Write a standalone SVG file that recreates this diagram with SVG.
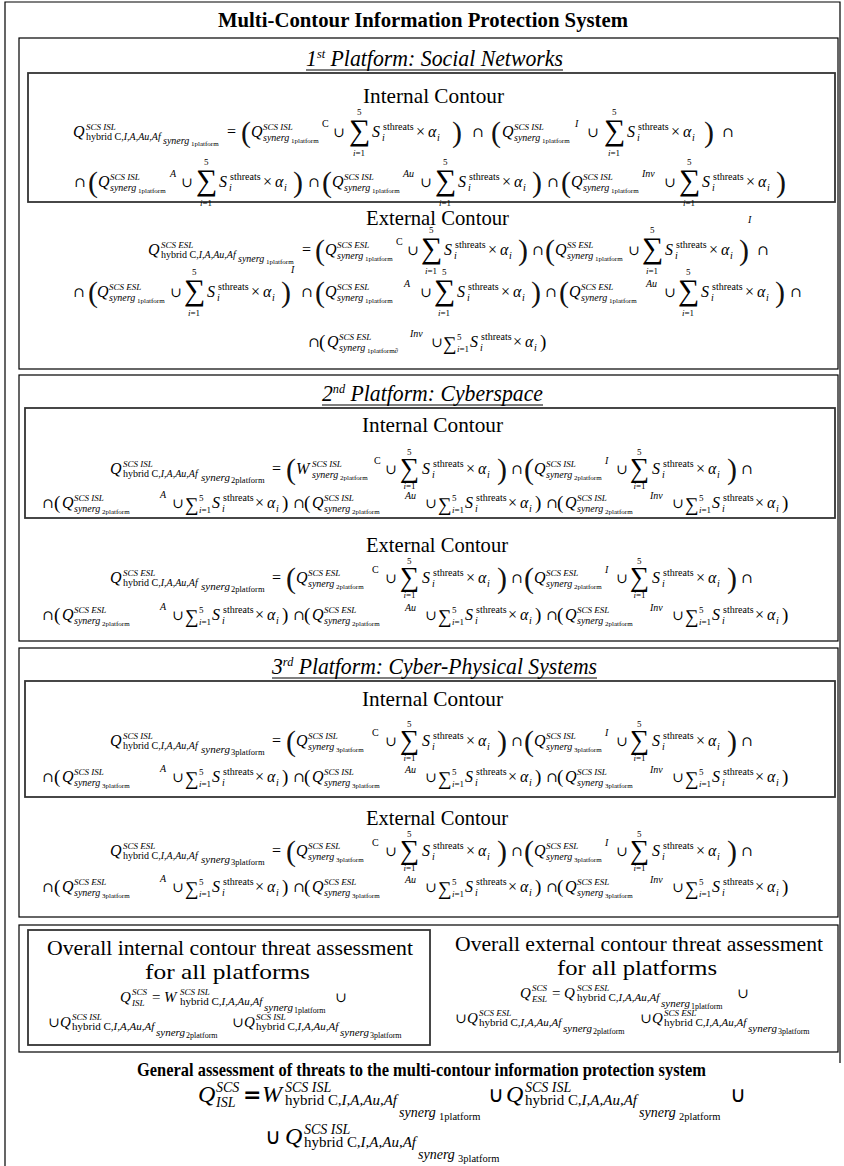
<svg xmlns="http://www.w3.org/2000/svg" width="844" height="1166" viewBox="0 0 844 1166">
<style>
text{font-family:"Liberation Serif","DejaVu Serif",serif;fill:#000}
.ttl{font-weight:bold;font-size:21px}
.gt{font-weight:bold;font-size:19px}
.hd{font-style:italic;font-size:23px}
.ct{font-size:21px}
.ov{font-size:22px}
.mi{font-style:italic;font-size:16px}
.rm{font-size:16px}
.op{font-family:"DejaVu Serif",serif;font-size:14px}
.sp{font-style:italic;font-size:9px}
.sb{font-style:italic;font-size:10px}
.sb11{font-style:italic;font-size:11px}
.sr{font-size:10px}
.ss{font-size:7px}
.s8{font-size:8.5px}
.it{font-style:italic}
.ex{font-style:italic;font-size:10px}
.cx{font-size:10px}
.lm{font-size:9px}
.bg{font-size:30px}
.bg2{font-size:27px}
.bi{font-size:19px}
.pb{font-size:30px;fill:#111}
.pi{font-size:19px}
.bx{fill:none;stroke:#000;stroke-width:1.2}
.ib{fill:none;stroke:#333;stroke-width:1.8}
.ul{stroke:#000;stroke-width:1.2}
.m2{font-style:italic;font-size:15px}
.r2{font-size:15px}
.o11{font-size:11px}
.o11i{font-style:italic;font-size:11px}
.o8{font-size:8px}
.gm{font-style:italic;font-size:24px}
.gs{font-style:italic;font-size:14px}
.gr{font-size:14px}
.gp{font-size:10.5px}
.gq{font-family:"DejaVu Sans",sans-serif;font-size:22px}
.ge{font-family:"DejaVu Sans",sans-serif;font-weight:bold;font-size:22px}
</style>
<defs>
<g id="sD"><text class="bg" x="0" y="3">∑</text><text class="lm" x="8" y="-22">5</text><text class="lm" x="4" y="19"><tspan class="it">i</tspan>=1</text><text class="mi" x="23" y="0">S</text><text class="sr" x="34" y="-7">sthreats</text><text class="sb" x="33" y="4">i</text><text class="rm" x="67" y="0">×</text><text class="mi" x="79" y="0">α</text><text class="sb" x="88" y="4">i</text></g>
<g id="sD2"><text class="bg2" x="0" y="3">∑</text><text class="lm" x="7" y="-19">5</text><text class="lm" x="3.5" y="15"><tspan class="it">i</tspan>=1</text><text class="mi" x="22" y="0">S</text><text class="sr" x="33" y="-7">sthreats</text><text class="sb" x="32" y="4">i</text><text class="rm" x="66" y="0">×</text><text class="mi" x="78" y="0">α</text><text class="sb" x="87" y="4">i</text></g>
<g id="sI"><text class="bi" x="0" y="3">∑</text><text class="lm" x="14" y="-7">5</text><text class="lm" x="14" y="5"><tspan class="it">i</tspan>=1</text><text class="mi" x="27" y="0">S</text><text class="sr" x="38" y="-7">sthreats</text><text class="sb" x="37" y="4">i</text><text class="rm" x="70" y="0">×</text><text class="mi" x="82" y="0">α</text><text class="sb" x="91" y="4">i</text></g>
<g id="qI1"><text class="mi" x="0" y="0">Q</text><text class="sp" x="12" y="-7">SCS ISL</text><text class="sb" x="12" y="4">synerg</text><text class="ss" x="40" y="6">1platform</text></g>
<g id="qE1"><text class="mi" x="0" y="0">Q</text><text class="sp" x="12" y="-7">SCS ESL</text><text class="sb" x="12" y="4">synerg</text><text class="ss" x="40" y="6">1platform</text></g>
<g id="qS1"><text class="mi" x="0" y="0">Q</text><text class="sp" x="12" y="-7">SS ESL</text><text class="sb" x="12" y="4">synerg</text><text class="ss" x="40" y="6">1platform</text></g>
<g id="qT1"><text class="mi" x="0" y="0">Q</text><text class="sp" x="12" y="-7">SCS ESL</text><text class="sb" x="12" y="4">synerg</text><text class="ss" x="40" y="6">1platform∂</text></g>
<g id="qI2"><text class="mi" x="0" y="0">Q</text><text class="sp" x="12" y="-7">SCS ISL</text><text class="sb" x="12" y="4">synerg</text><text class="ss" x="40" y="6">2platform</text></g>
<g id="qE2"><text class="mi" x="0" y="0">Q</text><text class="sp" x="12" y="-7">SCS ESL</text><text class="sb" x="12" y="4">synerg</text><text class="ss" x="40" y="6">2platform</text></g>
<g id="wI2"><text class="mi" x="0" y="0">W</text><text class="sp" x="16" y="-7">SCS ISL</text><text class="sb" x="16" y="4">synerg</text><text class="ss" x="44" y="6">2platform</text></g>
<g id="qI3"><text class="mi" x="0" y="0">Q</text><text class="sp" x="12" y="-7">SCS ISL</text><text class="sb" x="12" y="4">synerg</text><text class="ss" x="40" y="6">3platform</text></g>
<g id="qE3"><text class="mi" x="0" y="0">Q</text><text class="sp" x="12" y="-7">SCS ESL</text><text class="sb" x="12" y="4">synerg</text><text class="ss" x="40" y="6">3platform</text></g>
<g id="hI1"><text class="mi" x="0" y="0">Q</text><text class="sp" x="13" y="-7">SCS ISL</text><text class="sr" x="13" y="3">hybrid C<tspan class="it">,I,A,Au,Af</tspan></text><text class="sb" x="90" y="7">synerg</text><text class="ss" x="118" y="9">1platform</text></g>
<g id="hE1"><text class="mi" x="0" y="0">Q</text><text class="sp" x="13" y="-7">SCS ESL</text><text class="sr" x="13" y="3">hybrid C<tspan class="it">,I,A,Au,Af</tspan></text><text class="sb" x="90" y="7">synerg</text><text class="ss" x="118" y="9">1platform</text></g>
<g id="hI2"><text class="mi" x="0" y="0">Q</text><text class="sp" x="13" y="-7">SCS ISL</text><text class="sr" x="13" y="3">hybrid C<tspan class="it">,I,A,Au,Af</tspan></text><text class="sb11" x="91" y="7">synerg</text><text class="s8" x="121" y="9">2platform</text></g>
<g id="hE2"><text class="mi" x="0" y="0">Q</text><text class="sp" x="13" y="-7">SCS ESL</text><text class="sr" x="13" y="3">hybrid C<tspan class="it">,I,A,Au,Af</tspan></text><text class="sb11" x="91" y="7">synerg</text><text class="s8" x="121" y="9">2platform</text></g>
<g id="hI3"><text class="mi" x="0" y="0">Q</text><text class="sp" x="13" y="-7">SCS ISL</text><text class="sr" x="13" y="3">hybrid C<tspan class="it">,I,A,Au,Af</tspan></text><text class="sb11" x="91" y="7">synerg</text><text class="s8" x="121" y="9">3platform</text></g>
<g id="hE3"><text class="mi" x="0" y="0">Q</text><text class="sp" x="13" y="-7">SCS ESL</text><text class="sr" x="13" y="3">hybrid C<tspan class="it">,I,A,Au,Af</tspan></text><text class="sb11" x="91" y="7">synerg</text><text class="s8" x="121" y="9">3platform</text></g>
</defs>
<rect width="844" height="1166" fill="#fff"/>
<path class="bx" d="M5,1166 V2 H840 V1063"/>
<g id="title"><text class="ttl" x="218" y="27" textLength="410" lengthAdjust="spacingAndGlyphs">Multi-Contour Information Protection System</text></g>

<g id="platform1">
<rect class="bx" x="19" y="38" width="819" height="331"/>
<text class="hd" x="306" y="66" textLength="257" lengthAdjust="spacingAndGlyphs">1<tspan font-size="13" dy="-8">st</tspan><tspan dy="8"> Platform: Social Networks</tspan></text>
<line class="ul" x1="306" y1="70" x2="563" y2="70"/>
</g>
<g id="p1-internal">
<rect class="ib" x="28" y="73" width="807" height="129"/>
<text class="ct" x="363" y="103" textLength="141" lengthAdjust="spacingAndGlyphs">Internal Contour</text>
<use href="#hI1" x="73" y="137"/><text class="rm" x="227" y="137">=</text><text class="pb" x="241" y="142">(</text>
<use href="#qI1" x="251" y="137"/><text class="cx" x="322" y="127">C</text><text class="op" x="333" y="137">∪</text>
<use href="#sD" x="349" y="137"/><text class="pb" x="452" y="142">)</text><text class="op" x="472" y="137">∩</text><text class="pb" x="491" y="142">(</text>
<use href="#qI1" x="502" y="137"/><text class="ex" x="575" y="127">I</text><text class="op" x="587" y="137">∪</text>
<use href="#sD" x="604" y="137"/><text class="pb" x="704" y="142">)</text><text class="op" x="722" y="137">∩</text>
<text class="op" x="74" y="187">∩</text><text class="pb" x="88" y="192">(</text><use href="#qI1" x="98" y="187"/><text class="ex" x="170" y="177">A</text><text class="op" x="181" y="187">∪</text>
<use href="#sD" x="196" y="187"/><text class="pb" x="293" y="192">)</text><text class="op" x="308" y="187">∩</text><text class="pb" x="322" y="192">(</text>
<use href="#qI1" x="332" y="187"/><text class="ex" x="403" y="177">Au</text><text class="op" x="420" y="187">∪</text>
<use href="#sD" x="435" y="187"/><text class="pb" x="532" y="192">)</text><text class="op" x="547" y="187">∩</text><text class="pb" x="561" y="192">(</text>
<use href="#qI1" x="571" y="187"/><text class="ex" x="642" y="177">Inv</text><text class="op" x="664" y="187">∪</text>
<use href="#sD" x="679" y="187"/><text class="pb" x="776" y="192">)</text>
</g>
<g id="p1-external">
<text class="ct" x="366" y="225" textLength="143" lengthAdjust="spacingAndGlyphs">External Contour</text>
<use href="#hE1" x="148" y="255"/><text class="rm" x="302" y="255">=</text><text class="pb" x="315" y="260">(</text>
<use href="#qE1" x="325" y="255"/><text class="cx" x="396" y="245">C</text><text class="op" x="407" y="255">∪</text>
<use href="#sD" x="421" y="255"/><text class="pb" x="518" y="260">)</text><text class="op" x="532" y="255">∩</text><text class="pb" x="545" y="260">(</text>
<use href="#qS1" x="555" y="255"/><text class="op" x="628" y="255">∪</text>
<use href="#sD" x="642" y="255"/><text class="pb" x="739" y="260">)</text><text class="ex" x="748" y="223">I</text><text class="op" x="757" y="255">∩</text>
<text class="op" x="73" y="297">∩</text><text class="pb" x="88" y="302">(</text><use href="#qE1" x="97" y="297"/><text class="op" x="170" y="297">∪</text>
<use href="#sD" x="184" y="297"/><text class="pb" x="281" y="302">)</text><text class="ex" x="291" y="273">I</text><text class="op" x="301" y="297">∩</text><text class="pb" x="315" y="302">(</text>
<use href="#qE1" x="325" y="297"/><text class="ex" x="404" y="287">A</text><text class="op" x="420" y="297">∪</text>
<use href="#sD" x="434" y="297"/><text class="pb" x="531" y="302">)</text><text class="op" x="545" y="297">∩</text><text class="pb" x="559" y="302">(</text>
<use href="#qE1" x="569" y="297"/><text class="ex" x="646" y="287">Au</text><text class="op" x="664" y="297">∪</text>
<use href="#sD" x="678" y="297"/><text class="pb" x="775" y="302">)</text><text class="op" x="790" y="297">∩</text>
<text class="op" x="308" y="347">∩</text><text class="pi" x="319" y="348">(</text><use href="#qT1" x="327" y="347"/><text class="ex" x="410" y="337">Inv</text><text class="op" x="431" y="347">∪</text>
<use href="#sI" x="443" y="347"/><text class="pi" x="540" y="348">)</text>
</g>

<g id="platform2">
<rect class="bx" x="19" y="375" width="819" height="266"/>
<text class="hd" x="322" y="401" textLength="221" lengthAdjust="spacingAndGlyphs">2<tspan font-size="13" dy="-8">nd</tspan><tspan dy="8"> Platform: Cyberspace</tspan></text>
<line class="ul" x1="322" y1="405" x2="543" y2="405"/>
</g>
<g id="p2-internal">
<rect class="ib" x="25" y="408" width="810" height="110"/>
<text class="ct" x="362" y="432" textLength="141" lengthAdjust="spacingAndGlyphs">Internal Contour</text>
<use href="#hI2" x="110" y="474"/><text class="rm" x="272" y="474">=</text><text class="pb" x="286" y="479">(</text>
<use href="#wI2" x="296" y="474"/><text class="cx" x="374" y="464">C</text><text class="op" x="385" y="474">∪</text>
<use href="#sD2" x="400" y="474"/><text class="pb" x="497" y="479">)</text><text class="op" x="511" y="474">∩</text><text class="pb" x="524" y="479">(</text>
<use href="#qI2" x="534" y="474"/><text class="ex" x="605" y="464">I</text><text class="op" x="616" y="474">∪</text>
<use href="#sD2" x="630" y="474"/><text class="pb" x="727" y="479">)</text><text class="op" x="741" y="474">∩</text>
<text class="op" x="42" y="508">∩</text><text class="pi" x="54" y="509">(</text><use href="#qI2" x="62" y="508"/><text class="ex" x="160" y="498">A</text><text class="op" x="172" y="508">∪</text>
<use href="#sI" x="185" y="508"/><text class="pi" x="282" y="509">)</text><text class="op" x="293" y="508">∩</text><text class="pi" x="304" y="509">(</text>
<use href="#qI2" x="312" y="508"/><text class="ex" x="405" y="499">Au</text><text class="op" x="425" y="508">∪</text>
<use href="#sI" x="438" y="508"/><text class="pi" x="535" y="509">)</text><text class="op" x="546" y="508">∩</text><text class="pi" x="557" y="509">(</text>
<use href="#qI2" x="565" y="508"/><text class="ex" x="650" y="499">Inv</text><text class="op" x="672" y="508">∪</text>
<use href="#sI" x="685" y="508"/><text class="pi" x="782" y="509">)</text>
</g>
<g id="p2-external">
<text class="ct" x="366" y="552" textLength="142" lengthAdjust="spacingAndGlyphs">External Contour</text>
<use href="#hE2" x="110" y="583"/><text class="rm" x="272" y="583">=</text><text class="pb" x="286" y="588">(</text>
<use href="#qE2" x="296" y="583"/><text class="cx" x="372" y="573">C</text><text class="op" x="385" y="583">∪</text>
<use href="#sD2" x="400" y="583"/><text class="pb" x="497" y="588">)</text><text class="op" x="511" y="583">∩</text><text class="pb" x="524" y="588">(</text>
<use href="#qE2" x="534" y="583"/><text class="ex" x="605" y="573">I</text><text class="op" x="616" y="583">∪</text>
<use href="#sD2" x="630" y="583"/><text class="pb" x="727" y="588">)</text><text class="op" x="741" y="583">∩</text>
<text class="op" x="42" y="620">∩</text><text class="pi" x="54" y="621">(</text><use href="#qE2" x="62" y="620"/><text class="ex" x="160" y="610">A</text><text class="op" x="172" y="620">∪</text>
<use href="#sI" x="185" y="620"/><text class="pi" x="282" y="621">)</text><text class="op" x="293" y="620">∩</text><text class="pi" x="304" y="621">(</text>
<use href="#qE2" x="312" y="620"/><text class="ex" x="405" y="611">Au</text><text class="op" x="425" y="620">∪</text>
<use href="#sI" x="438" y="620"/><text class="pi" x="535" y="621">)</text><text class="op" x="546" y="620">∩</text><text class="pi" x="557" y="621">(</text>
<use href="#qE2" x="565" y="620"/><text class="ex" x="650" y="611">Inv</text><text class="op" x="672" y="620">∪</text>
<use href="#sI" x="685" y="620"/><text class="pi" x="782" y="621">)</text>
</g>

<g id="platform3">
<rect class="bx" x="19" y="648" width="819" height="269"/>
<text class="hd" x="272" y="674" textLength="325" lengthAdjust="spacingAndGlyphs">3<tspan font-size="13" dy="-8">rd</tspan><tspan dy="8"> Platform: Cyber-Physical Systems</tspan></text>
<line class="ul" x1="272" y1="678" x2="597" y2="678"/>
</g>
<g id="p3-internal">
<rect class="ib" x="25" y="681" width="810" height="116"/>
<text class="ct" x="362" y="706" textLength="141" lengthAdjust="spacingAndGlyphs">Internal Contour</text>
<use href="#hI3" x="110" y="746"/><text class="rm" x="272" y="746">=</text><text class="pb" x="286" y="751">(</text>
<use href="#qI3" x="296" y="746"/><text class="cx" x="372" y="736">C</text><text class="op" x="385" y="746">∪</text>
<use href="#sD2" x="400" y="746"/><text class="pb" x="497" y="751">)</text><text class="op" x="511" y="746">∩</text><text class="pb" x="524" y="751">(</text>
<use href="#qI3" x="534" y="746"/><text class="ex" x="605" y="736">I</text><text class="op" x="616" y="746">∪</text>
<use href="#sD2" x="630" y="746"/><text class="pb" x="727" y="751">)</text><text class="op" x="741" y="746">∩</text>
<text class="op" x="42" y="782">∩</text><text class="pi" x="54" y="783">(</text><use href="#qI3" x="62" y="782"/><text class="ex" x="160" y="772">A</text><text class="op" x="172" y="782">∪</text>
<use href="#sI" x="185" y="782"/><text class="pi" x="282" y="783">)</text><text class="op" x="293" y="782">∩</text><text class="pi" x="304" y="783">(</text>
<use href="#qI3" x="312" y="782"/><text class="ex" x="405" y="773">Au</text><text class="op" x="425" y="782">∪</text>
<use href="#sI" x="438" y="782"/><text class="pi" x="535" y="783">)</text><text class="op" x="546" y="782">∩</text><text class="pi" x="557" y="783">(</text>
<use href="#qI3" x="565" y="782"/><text class="ex" x="650" y="773">Inv</text><text class="op" x="672" y="782">∪</text>
<use href="#sI" x="685" y="782"/><text class="pi" x="782" y="783">)</text>
</g>
<g id="p3-external">
<text class="ct" x="366" y="825" textLength="142" lengthAdjust="spacingAndGlyphs">External Contour</text>
<use href="#hE3" x="110" y="856"/><text class="rm" x="272" y="856">=</text><text class="pb" x="286" y="861">(</text>
<use href="#qE3" x="296" y="856"/><text class="cx" x="372" y="846">C</text><text class="op" x="385" y="856">∪</text>
<use href="#sD2" x="400" y="856"/><text class="pb" x="497" y="861">)</text><text class="op" x="511" y="856">∩</text><text class="pb" x="524" y="861">(</text>
<use href="#qE3" x="534" y="856"/><text class="ex" x="605" y="846">I</text><text class="op" x="616" y="856">∪</text>
<use href="#sD2" x="630" y="856"/><text class="pb" x="727" y="861">)</text><text class="op" x="741" y="856">∩</text>
<text class="op" x="42" y="892">∩</text><text class="pi" x="54" y="893">(</text><use href="#qE3" x="62" y="892"/><text class="ex" x="160" y="882">A</text><text class="op" x="172" y="892">∪</text>
<use href="#sI" x="185" y="892"/><text class="pi" x="282" y="893">)</text><text class="op" x="293" y="892">∩</text><text class="pi" x="304" y="893">(</text>
<use href="#qE3" x="312" y="892"/><text class="ex" x="405" y="883">Au</text><text class="op" x="425" y="892">∪</text>
<use href="#sI" x="438" y="892"/><text class="pi" x="535" y="893">)</text><text class="op" x="546" y="892">∩</text><text class="pi" x="557" y="893">(</text>
<use href="#qE3" x="565" y="892"/><text class="ex" x="650" y="883">Inv</text><text class="op" x="672" y="892">∪</text>
<use href="#sI" x="685" y="892"/><text class="pi" x="782" y="893">)</text>
</g>

<g id="overall">
<rect class="bx" x="19" y="925" width="819" height="127"/>
</g>
<g id="overall-internal">
<rect class="ib" x="28" y="930" width="402" height="115"/>
<text class="ov" x="47" y="955" textLength="366" lengthAdjust="spacingAndGlyphs">Overall internal contour threat assessment</text>
<text class="ov" x="145" y="979" textLength="165" lengthAdjust="spacingAndGlyphs">for all platforms</text>
<text class="m2" x="120" y="1002">Q</text><text class="sp" x="132" y="995">SCS</text><text class="sp" x="132" y="1006">ISL</text>
<text class="r2" x="152" y="1002">=</text>
<text class="m2" x="164" y="1002">W</text><text class="sp" x="180" y="995">SCS ISL</text><text class="o11" x="180" y="1005">hybrid C<tspan class="it">,I,A,Au,Af</tspan></text><text class="o11i" x="264" y="1011">synerg</text><text class="o8" x="294" y="1013">1platform</text>
<text class="op" x="335" y="1002">∪</text>
<text class="op" x="48" y="1027">∪</text>
<text class="m2" x="60" y="1027">Q</text><text class="sp" x="72" y="1020">SCS ISL</text><text class="o11" x="72" y="1030">hybrid C<tspan class="it">,I,A,Au,Af</tspan></text><text class="o11i" x="156" y="1036">synerg</text><text class="o8" x="186" y="1038">2platform</text>
<text class="op" x="232" y="1027">∪</text>
<text class="m2" x="244" y="1027">Q</text><text class="sp" x="256" y="1020">SCS ISL</text><text class="o11" x="256" y="1030">hybrid C<tspan class="it">,I,A,Au,Af</tspan></text><text class="o11i" x="340" y="1036">synerg</text><text class="o8" x="370" y="1038">3platform</text>
</g>
<g id="overall-external">
<text class="ov" x="455" y="951" textLength="368" lengthAdjust="spacingAndGlyphs">Overall external contour threat assessment</text>
<text class="ov" x="557" y="975" textLength="160" lengthAdjust="spacingAndGlyphs">for all platforms</text>
<text class="m2" x="520" y="998">Q</text><text class="sp" x="532" y="991">SCS</text><text class="sp" x="532" y="1002">ESL</text>
<text class="r2" x="552" y="998">=</text>
<text class="m2" x="564" y="998">Q</text><text class="sp" x="577" y="991">SCS ESL</text><text class="o11" x="577" y="1001">hybrid C<tspan class="it">,I,A,Au,Af</tspan></text><text class="o11i" x="661" y="1007">synerg</text><text class="o8" x="691" y="1009">1platform</text>
<text class="op" x="737" y="998">∪</text>
<text class="op" x="455" y="1023">∪</text>
<text class="m2" x="467" y="1023">Q</text><text class="sp" x="479" y="1016">SCS ESL</text><text class="o11" x="479" y="1026">hybrid C<tspan class="it">,I,A,Au,Af</tspan></text><text class="o11i" x="563" y="1032">synerg</text><text class="o8" x="593" y="1034">2platform</text>
<text class="op" x="640" y="1023">∪</text>
<text class="m2" x="652" y="1023">Q</text><text class="sp" x="664" y="1016">SCS ESL</text><text class="o11" x="664" y="1026">hybrid C<tspan class="it">,I,A,Au,Af</tspan></text><text class="o11i" x="748" y="1032">synerg</text><text class="o8" x="778" y="1034">3platform</text>
</g>

<g id="general">
<text class="gt" x="137" y="1076" textLength="569" lengthAdjust="spacingAndGlyphs">General assessment of threats to the multi-contour information protection system</text>
<text class="gm" x="198" y="1102">Q</text><text class="gs" x="216" y="1092">SCS</text><text class="gs" x="216" y="1107">ISL</text>
<text class="ge" x="243" y="1102">=</text>
<text class="gm" x="262" y="1102">W</text><text class="gs" x="285" y="1092">SCS ISL</text><text class="gr" x="285" y="1105" textLength="112" lengthAdjust="spacingAndGlyphs">hybrid C<tspan class="it">,I,A,Au,Af</tspan></text><text class="gs" x="399" y="1117">synerg</text><text class="gp" x="439" y="1120">1platform</text>
<text class="gq" x="488" y="1102">∪</text>
<text class="gm" x="506" y="1102">Q</text><text class="gs" x="525" y="1092">SCS ISL</text><text class="gr" x="525" y="1105" textLength="112" lengthAdjust="spacingAndGlyphs">hybrid C<tspan class="it">,I,A,Au,Af</tspan></text><text class="gs" x="639" y="1117">synerg</text><text class="gp" x="679" y="1120">2platform</text>
<text class="gq" x="730" y="1102">∪</text>
<text class="gq" x="265" y="1144">∪</text>
<text class="gm" x="285" y="1144">Q</text><text class="gs" x="304" y="1134">SCS ISL</text><text class="gr" x="304" y="1147" textLength="112" lengthAdjust="spacingAndGlyphs">hybrid C<tspan class="it">,I,A,Au,Af</tspan></text><text class="gs" x="418" y="1159">synerg</text><text class="gp" x="458" y="1162">3platform</text>
</g>
</svg>
